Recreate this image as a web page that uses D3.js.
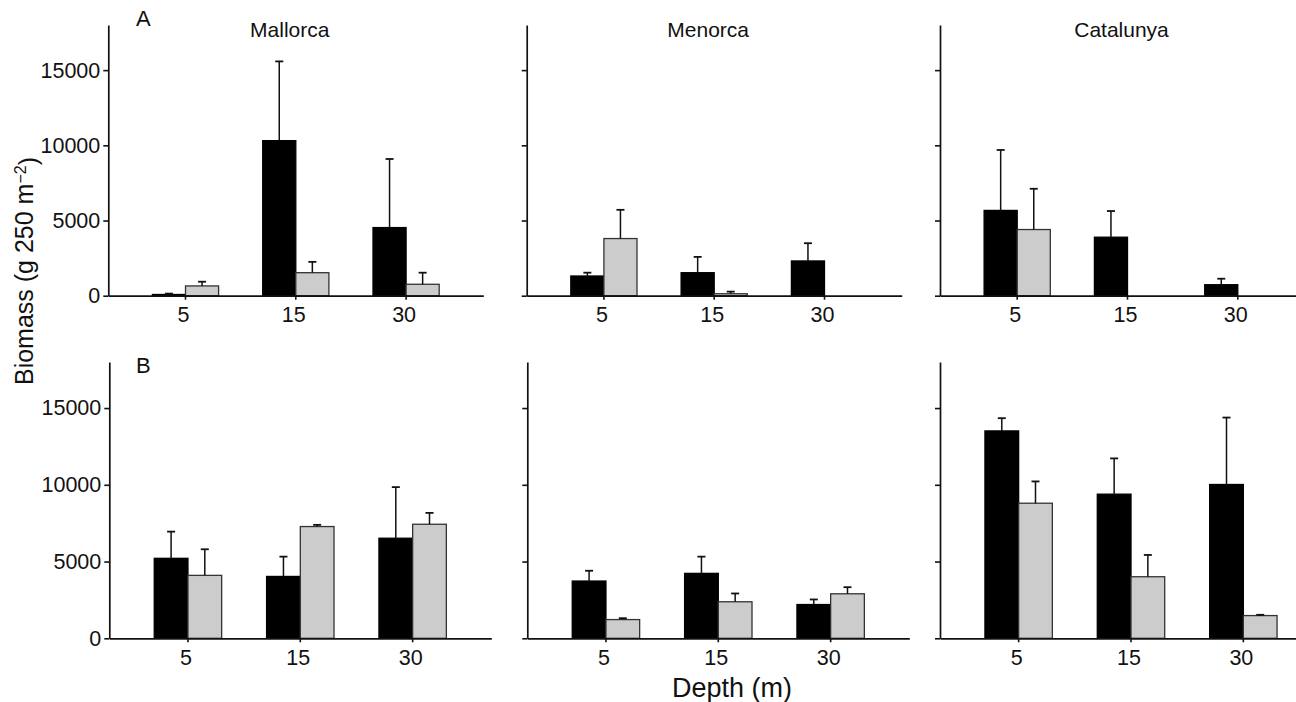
<!DOCTYPE html>
<html>
<head>
<meta charset="utf-8">
<script src="https://cdn.jsdelivr.net/npm/d3@7"></script>
<style>
  body { margin: 0; background: #fff; }
  text { font-family: "Liberation Sans", Arial, Helvetica, sans-serif; fill: #111; }
</style>
</head>
<body>
<script>
// Data (means and upper error values as SE)
const sites = ["Mallorca", "Menorca", "Catalunya"];
const depths = ["5", "15", "30"];
const yTicks = [0, 5000, 10000, 15000];
const series = ["dark", "light"];

// Panel A, one array per site, values for 5/15/30 m
const darkA = [[80, 10310, 4530], [1310, 1530, 2310], [5670, 3890, 730]];
const darkErrA = [[60, 5270, 4560], [220, 1050, 1180], [4020, 1740, 400]];
const lightA = [[650, 1530, 760], [3800, 130, 0], [4400, 0, 0]];
const lightErrA = [[280, 720, 770], [1910, 140, 0], [2710, 0, 0]];

// Panel B
const darkB = [[5210, 4030, 6520], [3730, 4230, 2200], [13510, 9390, 10020]];
const darkErrB = [[1740, 1290, 3330], [670, 1090, 330], [830, 2330, 4360]];
const lightB = [[4100, 7280, 7430], [1220, 2380, 2900], [8800, 4010, 1480]];
const lightErrB = [[1700, 110, 740], [90, 540, 430], [1420, 1420, 50]];

const colors = { dark: "#000000", light: "#cccccc" };

function drawChart() {
    const svg = d3.select("body")
        .append("svg")
        .attr("width", 1296)
        .attr("height", 702);

    // layout of the two rows of panels
    const rows = [
        { label: "A", letterY: 26, top: 25, bottom: 295.7, lefts: [108.3, 526.7, 940], width: 375,
          dark: darkA, darkErr: darkErrA, light: lightA, lightErr: lightErrA, titles: true },
        { label: "B", letterY: 373, top: 362, bottom: 638.3, lefts: [109.3, 527.3, 940], width: 382,
          dark: darkB, darkErr: darkErrB, light: lightB, lightErr: lightErrB, titles: false }
    ];

    rows.forEach(row => {
        const height = row.bottom - row.top;

        const yScale = d3.scaleLinear()
            .domain([0, 18000])
            .range([height, 0]);

        const xScale = d3.scaleBand()
            .domain(depths)
            .range([0, row.width])
            .paddingInner(0.4)
            .paddingOuter(0.4);

        const xSub = d3.scaleBand()
            .domain(series)
            .range([0, xScale.bandwidth()]);

        sites.forEach((site, si) => {
            const g = svg.append("g")
                .attr("transform", `translate(${row.lefts[si]},${row.top})`);

            // bars
            const data = [];
            depths.forEach((d, di) => {
                data.push({ depth: d, s: "dark", v: row.dark[si][di], e: row.darkErr[si][di] });
                data.push({ depth: d, s: "light", v: row.light[si][di], e: row.lightErr[si][di] });
            });
            const shown = data.filter(d => d.v > 0);

            g.selectAll(".bar")
                .data(shown)
                .enter().append("rect")
                .attr("class", "bar")
                .attr("x", d => xScale(d.depth) + xSub(d.s))
                .attr("y", d => yScale(d.v))
                .attr("width", xSub.bandwidth())
                .attr("height", d => height - yScale(d.v))
                .attr("fill", d => colors[d.s])
                .attr("stroke", d => d.s === "dark" ? "#000" : "#333")
                .attr("stroke-width", 1.3);

            // error bars (upper only)
            const errs = shown.filter(d => d.e > 0);
            const cx = d => xScale(d.depth) + xSub(d.s) + xSub.bandwidth() / 2;
            g.selectAll(".err")
                .data(errs)
                .enter().append("line")
                .attr("class", "err")
                .attr("x1", cx).attr("x2", cx)
                .attr("y1", d => yScale(d.v))
                .attr("y2", d => yScale(d.v + d.e))
                .attr("stroke", "#111")
                .attr("stroke-width", 1.5);
            g.selectAll(".cap")
                .data(errs)
                .enter().append("line")
                .attr("class", "cap")
                .attr("x1", d => cx(d) - 4).attr("x2", d => cx(d) + 4)
                .attr("y1", d => yScale(d.v + d.e))
                .attr("y2", d => yScale(d.v + d.e))
                .attr("stroke", "#111")
                .attr("stroke-width", 1.8);

            // x axis
            const xAxis = g.append("g")
                .attr("transform", `translate(0,${height})`)
                .call(d3.axisBottom(xScale).tickSizeInner(4).tickSizeOuter(0).tickPadding(7));
            xAxis.selectAll("text")
                .attr("dx", "-2")
                .style("font-size", "21.5px")
                .style("fill", "#111");

            // y axis
            const yAxis = g.append("g")
                .call(d3.axisLeft(yScale).tickValues(yTicks).tickSizeInner(5).tickSizeOuter(0).tickPadding(3)
                    .tickFormat(si === 0 ? d3.format("d") : () => ""));
            yAxis.selectAll("text")
                .style("font-size", "21.5px")
                .style("fill", "#111");

            [xAxis, yAxis].forEach(ax => {
                ax.selectAll("path, line").attr("stroke", "#111").attr("stroke-width", 1.6);
                ax.select(".domain").attr("stroke-width", 1.7);
            });

            // site titles
            if (row.titles) {
                g.append("text")
                    .attr("x", xScale("15") + xScale.bandwidth() / 2 - 6)
                    .attr("y", 12.3)
                    .attr("text-anchor", "middle")
                    .style("font-size", "21px")
                    .text(site);
            }
        });

        // panel letter
        svg.append("text")
            .attr("x", 136)
            .attr("y", row.letterY)
            .style("font-size", "22px")
            .text(row.label);
    });

    // axis titles
    const yLab = svg.append("text")
        .attr("transform", "translate(33,271) rotate(-90)")
        .attr("text-anchor", "middle")
        .style("font-size", "25px");
    yLab.append("tspan").text("Biomass (g 250 m");
    yLab.append("tspan").attr("dy", "-0.45em").style("font-size", "16px").text("\u22122");
    yLab.append("tspan").attr("dy", "0.45em").text(")");

    svg.append("text")
        .attr("x", 732)
        .attr("y", 697)
        .attr("text-anchor", "middle")
        .style("font-size", "27px")
        .text("Depth (m)");
}

drawChart();
</script>
</body>
</html>
